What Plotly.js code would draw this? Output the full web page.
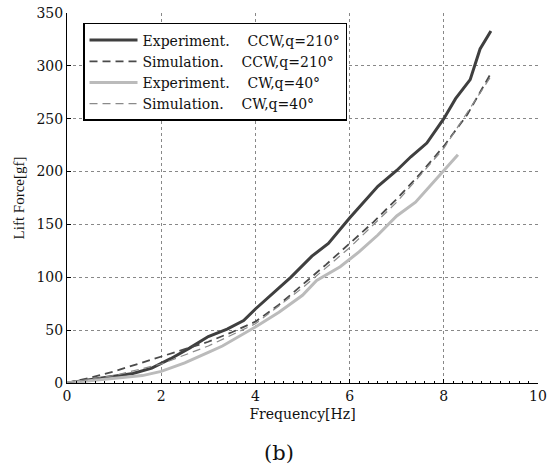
<!DOCTYPE html>
<html>
<head>
<meta charset="utf-8">
<script src="https://cdn.plot.ly/plotly-3.0.1.min.js"></script>
<style>html,body{margin:0;padding:0;background:#fff;}#chart{width:559px;height:468px;}</style>
</head>
<body>
<div id="chart"></div>
<script>
// Experiment, CCW q=210°
const expCcwF = [0, 0.5, 1.0, 1.4, 1.8, 2.2, 2.6, 3.0, 3.4, 3.75, 4.0, 4.5, 4.75, 5.2, 5.55, 6.0, 6.6, 7.0, 7.3, 7.64, 8.0, 8.25, 8.56, 8.77, 9.0];
const expCcwL = [0, 3, 6, 9, 14, 23, 33, 44, 51, 59, 70, 90, 100, 120, 132, 156, 186, 201, 214, 227, 250, 269, 287, 316, 333];
// Simulation, CCW q=210°
const simCcwF = [0, 0.5, 1.0, 1.5, 2.0, 2.5, 3.0, 3.5, 4.0, 4.5, 5.0, 5.5, 6.0, 6.5, 7.0, 7.5, 8.0, 8.5, 9.0];
const simCcwL = [0, 5, 11, 18, 25, 32, 39, 48, 58, 74, 93, 112, 132, 152, 174, 198, 224, 254, 293];
// Experiment, CW q=40°
const expCwF = [0, 0.5, 1.0, 1.6, 2.0, 2.5, 3.0, 3.3, 4.0, 4.5, 5.0, 5.3, 5.8, 6.2, 6.6, 7.0, 7.4, 8.0, 8.3];
const expCwL = [0, 2, 4, 7, 11, 19, 29, 35, 53, 67, 83, 97, 110, 124, 140, 158, 171, 201, 216];
// Simulation, CW q=40°
const simCwF = [0, 1, 2, 3, 4, 5, 6, 7, 8, 9];
const simCwL = [0, 7, 18, 35, 56, 90, 128, 171, 222, 290];

const names = ['Experiment.\u00a0\u00a0\u00a0\u00a0CCW,q=210\u00b0', 'Simulation.\u00a0\u00a0\u00a0\u00a0CCW,q=210\u00b0',
               'Experiment.\u00a0\u00a0\u00a0\u00a0CW,q=40\u00b0', 'Simulation.\u00a0\u00a0\u00a0\u00a0CW,q=40\u00b0'];

const serif = 'DejaVu Serif, serif';
const data = [
  {x: expCcwF, y: expCcwL, name: names[0], mode: 'lines', line: {color: '#3f3f3f', width: 3}},
  {x: simCcwF, y: simCcwL, name: names[1], mode: 'lines', line: {color: '#4a4a4a', width: 1.8, dash: '8px,5px'}},
  {x: expCwF, y: expCwL, name: names[2], mode: 'lines', line: {color: '#bbbbbb', width: 3}},
  {x: simCwF, y: simCwL, name: names[3], mode: 'lines', line: {color: '#8a8a8a', width: 1.2, dash: '8px,5px'}}
];

const layout = {
  width: 559, height: 468,
  margin: {l: 67, r: 21, t: 13, b: 85},
  paper_bgcolor: '#fff', plot_bgcolor: '#fff',
  font: {family: serif, size: 14, color: '#111'},
  showlegend: true,
  legend: {x: 0.034, y: 0.973, xanchor: 'left', yanchor: 'top',
           bgcolor: '#fff', bordercolor: '#000', borderwidth: 1.5,
           font: {family: serif, size: 14, color: '#111'}, itemwidth: 48,
           tracegroupgap: 0},
  xaxis: {range: [0, 10], dtick: 2, showline: true, linecolor: '#000', linewidth: 1,
          ticks: 'inside', ticklen: 4, tickcolor: '#000', mirror: false,
          showgrid: true, gridcolor: '#888', griddash: 'dot', gridwidth: 1,
          zeroline: false, tickfont: {family: serif, size: 14},
          minor: {dtick: 0.2, ticks: 'inside', ticklen: 2, tickcolor: '#000', showgrid: false},
          title: {text: 'Frequency[Hz]', font: {family: serif, size: 14}, standoff: 6}},
  yaxis: {range: [0, 350], dtick: 50, showline: true, linecolor: '#000', linewidth: 1,
          ticks: 'inside', ticklen: 4, tickcolor: '#000',
          showgrid: true, gridcolor: '#888', griddash: 'dot', gridwidth: 1,
          zeroline: false, tickfont: {family: serif, size: 14},
          title: {text: 'Lift Force[gf]', font: {family: 'Liberation Serif, serif', size: 15}, standoff: 8}},
  annotations: [{text: '(b)', xref: 'paper', yref: 'paper', x: 0.45, y: -0.19,
                 showarrow: false, xanchor: 'center', yanchor: 'middle',
                 font: {family: serif, size: 21, color: '#111'}}]
};

Plotly.newPlot('chart', data, layout, {displayModeBar: false, staticPlot: true});
</script>
</body>
</html>
